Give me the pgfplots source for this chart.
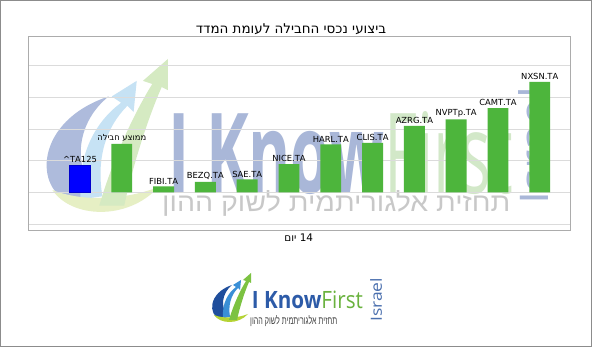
\documentclass[border=0pt]{standalone}
\usepackage{fontspec}
\setmainfont{DejaVu Sans}
\newfontfamily\hebfont[Script=Hebrew]{DejaVu Sans}
\newfontfamily\hebtag[Script=Hebrew]{Liberation Sans}
\newfontfamily\logofont{Open Sans}
\TeXXeTstate=1
\usepackage{graphicx}
\usepackage{pgfplots}
\pgfplotsset{compat=1.18}
\definecolor{barg}{HTML}{4DB53C}
\definecolor{barb}{HTML}{0000FF}
\definecolor{logoblue}{HTML}{2D5BA8}
\definecolor{logogreen}{HTML}{6AB23E}
\definecolor{israelblue}{HTML}{4A6FAE}
\definecolor{wmblue}{HTML}{A9B7D8}
\definecolor{wmgreen}{HTML}{D2E8C8}
\definecolor{wmgray}{HTML}{C8C8C8}
\definecolor{wmc1}{HTML}{AEBBDC}
\definecolor{wmc2}{HTML}{C6E2F4}
\definecolor{wmc3}{HTML}{D5EAC2}
\definecolor{wmc4}{HTML}{E6EFC4}
\definecolor{lc1}{HTML}{1F4E9C}
\definecolor{lc2}{HTML}{3A8FD6}
\definecolor{lc3}{HTML}{7CC242}
\definecolor{lc4}{HTML}{B5D334}
\newcommand{\swoosh}[4]{%
  \fill[#1] (10,4) .. controls (-2,8) and (-2,30) .. (22,38) .. controls (12,30) and (10,16) .. (18,7) .. controls (15,5) and (12,4) .. (10,4) -- cycle;
  \fill[#2] (13,5) .. controls (12,20) and (18,30) .. (26,36) -- (23,38) -- (31,43) -- (30,33) -- (28,35) .. controls (21,28) and (18,18) .. (20,6) -- cycle;
  \fill[#4] (4,8) .. controls (10,-1) and (28,-2) .. (38,9) .. controls (28,5) and (14,4) .. (4,8) -- cycle;
  \fill[#3] (19,3) .. controls (24,20) and (31,34) .. (36,42) -- (33,43) -- (41,50) -- (41,40) -- (39,41) .. controls (35,32) and (30,17) .. (27,3) -- cycle;
}
\begin{document}
\begin{tikzpicture}
\useasboundingbox (0bp,0bp) rectangle (592bp,347bp);
\fill[white] (0bp,0bp) rectangle (592bp,347bp);
% watermark
\begin{scope}[x=1bp,y=1bp]
\begin{scope}[shift={(40,132)}, scale=3.12]
  \swoosh{wmc1}{wmc2}{wmc3}{wmc4}
\end{scope}
\node[anchor=base west, inner sep=0] at (168,153) {\resizebox{345bp}{82bp}{\logofont\textcolor{wmblue}{\bfseries I Know}\textcolor{wmgreen}{First}}};
\node[anchor=north west, inner sep=0] at (162,157) {\resizebox{348bp}{21bp}{\hebtag\color{wmgray}\beginR תחזית אלגוריתמית לשוק ההון\endR}};
\node[anchor=south west, inner sep=0] at (518,142) {\rotatebox{90}{\resizebox{118bp}{30bp}{\logofont\color{wmblue}Israel}}};
\end{scope}
% chart
\begin{axis}[
  at={(28bp,116.3bp)}, anchor=south west,
  scale only axis, width=542.7bp, height=194bp,
  xmin=-1.244, xmax=11.74, ymin=-1.213, ymax=4.915,
  axis line style={draw=gray!65, line width=0.8bp},
  xtick=\empty, ytick={-1,0,1,2,3,4}, yticklabels={},
  major tick length=0pt,
  ymajorgrids, grid style={draw=gray!28, line width=0.8bp},
  ybar, bar width=0.5, clip=false,
  every node near coord/.append style={font=\hebfont\fontsize{8.4}{10}\selectfont, text=black, anchor=south, inner sep=0pt, yshift=2bp},
]
\addplot[fill=barb, draw=barb!80!black, bar shift=0pt, point meta=explicit symbolic, nodes near coords]
  coordinates {(0,0.854) [\textasciicircum TA125]};
\addplot[fill=barg, draw=none, bar shift=0pt, point meta=explicit symbolic, nodes near coords]
  coordinates {
  (1,1.53) [\beginR ממוצע חבילה\endR]
  (2,0.19) [FIBI.TA]
  (3,0.327) [BEZQ.TA]
  (4,0.41) [SAE.TA]
  (5,0.886) [NICE.TA]
  (6,1.51) [HARL.TA]
  (7,1.56) [CLIS.TA]
  (8,2.10) [AZRG.TA]
  (9,2.30) [NVPTp.TA]
  (10,2.66) [CAMT.TA]
  (11,3.49) [NXSN.TA]
  };
\end{axis}
\begin{scope}[x=1bp,y=1bp]
% title and x label
\node at (291,318) {\hebfont\fontsize{13.5}{16}\selectfont\beginR ביצועי נכסי החבילה לעומת המדד\endR};
\node at (298.7,109) {\hebfont\fontsize{10.5}{12}\selectfont\beginR\beginL 14\endL{} יום\endR};
% bottom logo
\begin{scope}[shift={(210,24)}]
  \swoosh{lc1}{lc2}{lc3}{lc4}
\end{scope}
\node[anchor=base west, inner sep=0] at (251.7,38) {\resizebox{111bp}{17.5bp}{\logofont\textcolor{logoblue}{\bfseries I Know}\textcolor{logogreen}{First}}};
\node[anchor=north west, inner sep=0] at (250,32) {\resizebox{87bp}{9bp}{\hebtag\color{black!75}\beginR תחזית אלגוריתמית לשוק ההון\endR}};
\node[anchor=south west, inner sep=0] at (370,25) {\rotatebox{90}{\resizebox{44bp}{11.7bp}{\logofont\color{israelblue}Israel}}};
% outer frame
\draw[gray!90, line width=1.5bp] (0.75,0.75) rectangle (591.25,346.25);
\end{scope}
\end{tikzpicture}
\end{document}
